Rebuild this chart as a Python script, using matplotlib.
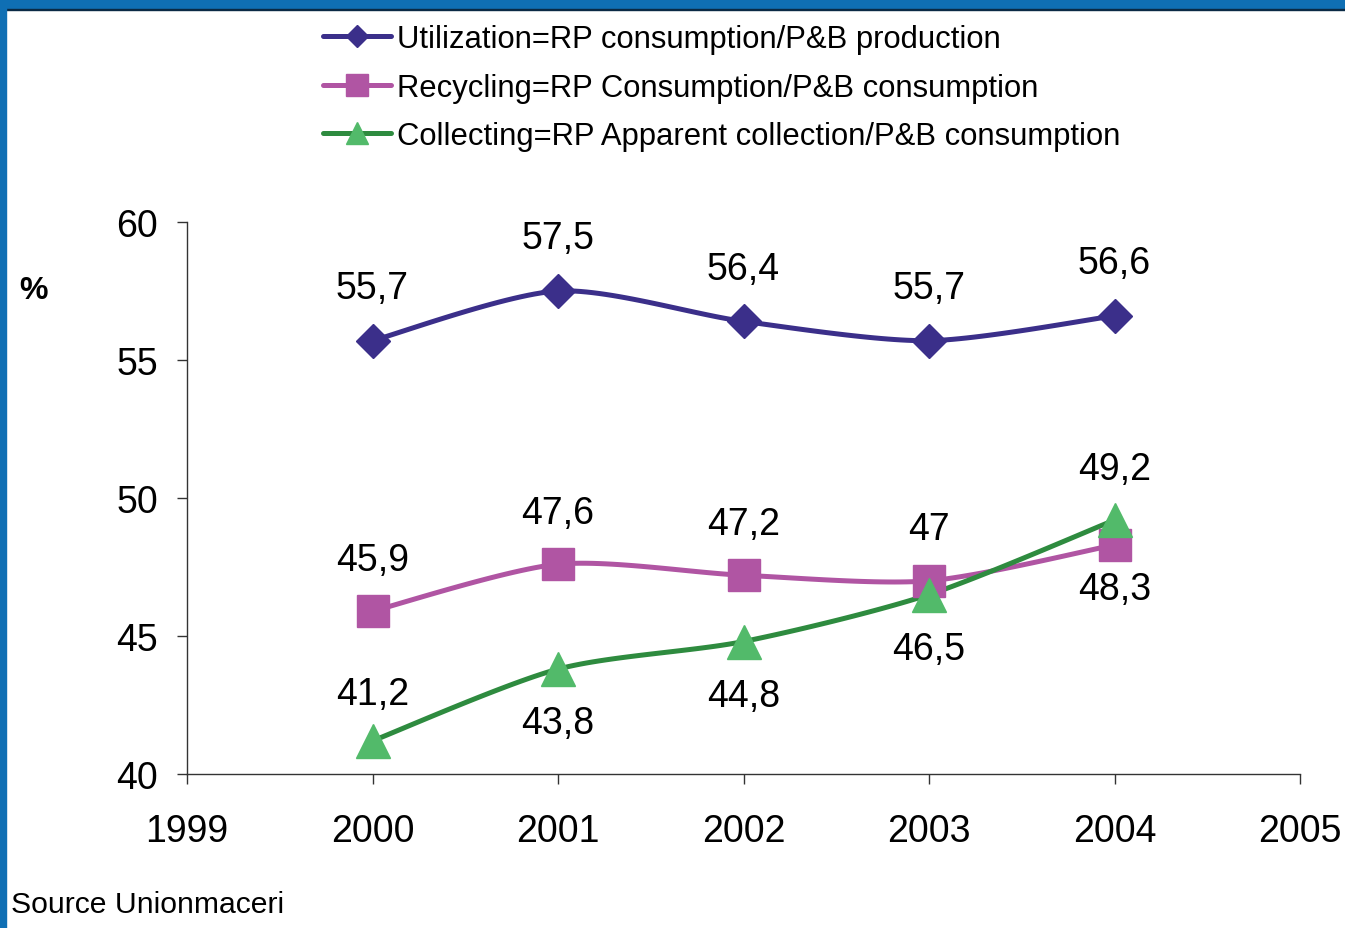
import matplotlib.pyplot as plt
import numpy as np
from matplotlib.patches import Rectangle

plt.rcParams['font.family'] = ['Liberation Sans', 'DejaVu Sans']

years = [2000, 2001, 2002, 2003, 2004]
utilization = [55.7, 57.5, 56.4, 55.7, 56.6]
recycling = [45.9, 47.6, 47.2, 47.0, 48.3]
collecting = [41.2, 43.8, 44.8, 46.5, 49.2]

util_labels = ['55,7', '57,5', '56,4', '55,7', '56,6']
rec_labels = ['45,9', '47,6', '47,2', '47', '48,3']
col_labels = ['41,2', '43,8', '44,8', '46,5', '49,2']

names = ['Utilization=RP consumption/P&B production',
         'Recycling=RP Consumption/P&B consumption',
         'Collecting=RP Apparent collection/P&B consumption']


def smooth(x, y, n=30, tension=0.8):
    # catmull-rom style smoothing like excel's smoothed line
    x = np.asarray(x, float)
    y = np.asarray(y, float)
    xs, ys = [], []
    for i in range(len(x) - 1):
        p0 = (x[i - 1], y[i - 1]) if i > 0 else (x[i], y[i])
        p1 = (x[i], y[i])
        p2 = (x[i + 1], y[i + 1])
        p3 = (x[i + 2], y[i + 2]) if i + 2 < len(x) else (x[i + 1], y[i + 1])
        t = np.linspace(0, 1, n)
        for k in range(2):
            b, c = p1[k], p2[k]
            m1 = tension * (c - p0[k]) / 2
            m2 = tension * (p3[k] - b) / 2
            v = ((2 * t ** 3 - 3 * t ** 2 + 1) * b + (t ** 3 - 2 * t ** 2 + t) * m1
                 + (-2 * t ** 3 + 3 * t ** 2) * c + (t ** 3 - t ** 2) * m2)
            (xs if k == 0 else ys).extend(v)
    return xs, ys


fig = plt.figure(figsize=(13.45, 9.29), dpi=100)
ax = fig.add_axes([187 / 1345, 1 - 775 / 929, 1113 / 1345, 552 / 929])

series = [
    (utilization, util_labels, '#3B2F8A', '#3B2F8A', 'D', 17, [-38] * 5),
    (recycling, rec_labels, '#B055A3', '#B055A3', 's', 23, [-37, -37, -37, -37, 32]),
    (collecting, col_labels, '#2E8B3F', '#52BA6A', '^', 25, [-34, 39, 39, 39, -37]),
]

handles = []
for vals, labs, lc, mc, mk, ms, offs in series:
    sx, sy = smooth(years, vals)
    ax.plot(sx, sy, color=lc, lw=3.6, solid_capstyle='round', zorder=2)
    ax.plot(years, vals, ls='none', marker=mk, ms=ms, color=mc, mec=mc, zorder=3)
    h, = ax.plot([], [], color=lc, lw=3.6, marker=mk, ms=ms, mfc=mc, mec=mc,
                 solid_capstyle='round')
    handles.append(h)
    for x, v, lab, o in zip(years, vals, labs, offs):
        ax.annotate(lab, (x, v), xytext=(0, -o), textcoords='offset points',
                    ha='center', va='center', fontsize=27)

ax.set_xlim(1999, 2005)
ax.set_ylim(40, 60)
ax.set_xticks(range(1999, 2006))
ax.set_yticks(range(40, 61, 5))
for s in ['top', 'right']:
    ax.spines[s].set_visible(False)
for s in ['left', 'bottom']:
    ax.spines[s].set_color('#333333')
    ax.spines[s].set_linewidth(1.0)
ax.tick_params(axis='both', direction='out', length=7, width=1.0, color='#333333',
               labelsize=27)
ax.tick_params(axis='x', pad=21)
ax.tick_params(axis='y', pad=14)

fig.legend(handles, names, loc='upper left', bbox_to_anchor=(323 / 1345, 1 - 25 / 929),
           frameon=False, fontsize=22.3, handlelength=2.2, handletextpad=0.2,
           labelspacing=0.6, markerscale=0.66, borderpad=0, borderaxespad=0)

fig.text(34 / 1345, 1 - 291 / 929, '%', fontsize=23, fontweight='bold',
         ha='center', va='center')
fig.text(11 / 1345, 1 - 905 / 929, 'Source Unionmaceri', fontsize=21.7,
         ha='left', va='center')

# blue frame on top and left
fig.patches.append(Rectangle((0, 1 - 10 / 929), 1, 10 / 929, transform=fig.transFigure,
                             color='#0F6FB4', zorder=0))
fig.patches.append(Rectangle((0, 1 - 11 / 929), 1, 1.5 / 929, transform=fig.transFigure,
                             color='#0A2A45', zorder=0))
fig.patches.append(Rectangle((0, 0), 6 / 1345, 1, transform=fig.transFigure,
                             color='#0F6FB4', zorder=0))

fig.savefig('out.png', dpi=100)
